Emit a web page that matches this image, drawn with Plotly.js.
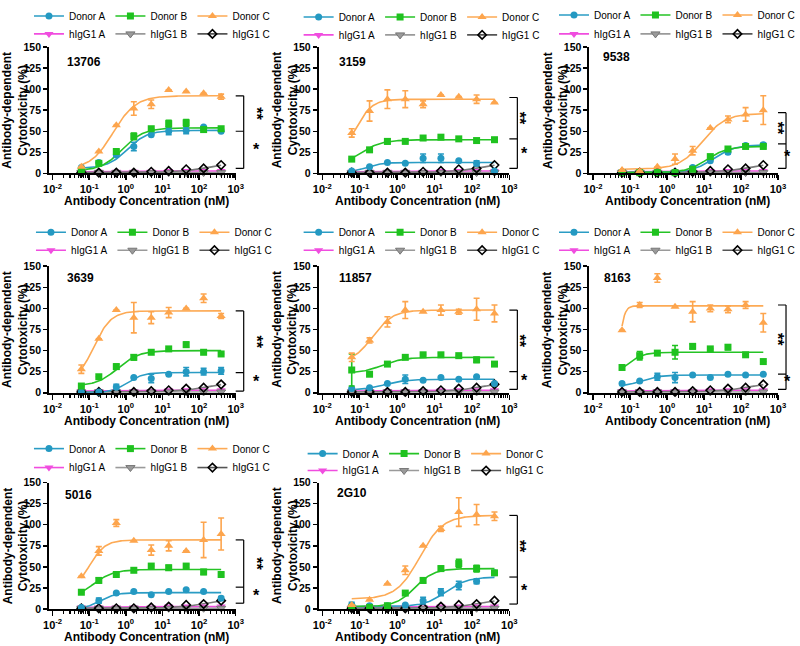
<!DOCTYPE html>
<html><head><meta charset="utf-8">
<script src="https://cdn.plot.ly/plotly-3.0.1.min.js"></script>
<style>html,body{margin:0;padding:0;background:#fff}#chart{width:800px;height:646px}</style>
</head><body><div id="chart"></div>
<script>
// ---------------- DATA ----------------
const concentrations = [0.061, 0.183, 0.549, 1.65, 4.94, 14.8, 44.4, 133, 400];
const panelNames = ['13706', '3159', '9538', '3639', '11857', '8163', '5016', '2G10'];
const seriesNames = ['Donor A', 'Donor B', 'Donor C', 'hIgG1 A', 'hIgG1 B', 'hIgG1 C'];

const donorA = [
  [7, 13, 22, 32, 46, 50, 51, 55, 50],
  [3, 8, 13, 12, 18, 18, 15, 12, 3],
  [1, 1, 1, 1, 7, 15, 25, 33, 34],
  [1, 1, 7, 18, 17, 22, 25, 25, 26],
  [5, 6, 11, 16, 15, 18, 16, 19, 11],
  [11, 14, 19, 18, 21, 18, 22, 21, 22],
  [2, 10, 19, 21, 17, 21, 23, 21, 13],
  [5, 4, 4, 5, 10, 20, 28, 33, 43]
];
const donorAErr = [
  [0, 0, 0, 5, 0, 4, 4, 0, 0],
  [0, 0, 0, 0, 5, 5, 0, 3, 0],
  [0, 0, 0, 0, 0, 0, 2, 0, 2],
  [0, 0, 3, 0, 5, 0, 5, 4, 4],
  [0, 0, 0, 5, 0, 0, 0, 0, 0],
  [0, 0, 4, 6, 0, 0, 0, 0, 0],
  [0, 3, 0, 0, 0, 0, 0, 0, 2],
  [3, 0, 0, 0, 4, 4, 5, 3, 2]
];
const donorB = [
  [4, 12, 26, 44, 53, 59, 60, 52, 53],
  [17, 28, 38, 38, 42, 43, 41, 39, 40],
  [1, 1, 1, 1, 5, 20, 29, 32, 32],
  [8, 19, 31, 42, 48, 52, 57, 48, 46],
  [27, 22, 34, 42, 45, 45, 44, 39, 34],
  [30, 44, 47, 48, 55, 52, 54, 45, 37],
  [20, 34, 41, 46, 51, 49, 51, 44, 41],
  [2, 2, 4, 19, 34, 48, 54, 48, 43]
];
const donorBErr = [
  [0, 0, 2, 4, 0, 4, 4, 0, 0],
  [0, 0, 3, 0, 0, 0, 0, 0, 0],
  [0, 0, 0, 0, 0, 0, 0, 0, 2],
  [0, 0, 3, 3, 0, 0, 3, 0, 0],
  [19, 0, 0, 0, 0, 2, 0, 3, 0],
  [2, 5, 0, 8, 3, 0, 3, 0, 0],
  [0, 3, 0, 0, 0, 3, 2, 3, 2],
  [0, 0, 0, 0, 3, 3, 5, 4, 0]
];
const donorC = [
  [8, 26, 57, 77, 82, 99, 97, 95, 91],
  [48, 74, 88, 88, 82, 93, 91, 88, 84],
  [4, 3, 8, 17, 27, 54, 64, 70, 75],
  [28, 64, 98, 89, 89, 95, 100, 112, 91],
  [42, 62, 84, 98, 96, 98, 96, 99, 94],
  [74, 104, 136, 102, 96, 100, 99, 104, 83],
  [39, 69, 102, 81, 70, 75, 69, 82, 89],
  [5, 11, 30, 46, 75, 95, 115, 112, 110]
];
const donorCErr = [
  [0, 0, 0, 8, 5, 0, 0, 0, 3],
  [5, 12, 11, 10, 4, 0, 0, 5, 0],
  [0, 0, 0, 6, 5, 0, 4, 8, 17],
  [5, 0, 0, 18, 7, 6, 0, 5, 3],
  [5, 3, 6, 10, 0, 6, 3, 13, 10],
  [0, 3, 5, 0, 12, 4, 4, 4, 11],
  [0, 5, 4, 0, 6, 6, 0, 21, 19],
  [0, 0, 0, 5, 0, 3, 17, 12, 5]
];
const hIgG1A = [2, 2, 2, 2, 2, 3, 3, 3, 3];
const hIgG1B = [1, 1, 1, 1, 1, 1, 1, 1, 1];
const hIgG1C = [1, 1, 1, 1, 2, 3, 5, 6, 10];

// fitted 4PL curve parameters: [bottom, top, EC50 (nM), Hill slope]
const fitDonorA = [[6,51,1.1,1.6],[1,13,0.15,2],[1,34,18,1.5],[0,24,1.1,2],[3,16,0.45,1.5],[7,21,0.2,1.8],[0,19.5,0.2,2],[3,38,20,1.5]];
const fitDonorB = [[3,54,0.8,1.5],[5,40,0.09,1.4],[1,32,12,1.6],[8,50,0.6,1.5],[23,42,0.4,1.5],[18,48,0.08,2],[10,47,0.12,1.5],[3,48,3,1.7]];
const fitDonorC = [[5,92,0.45,1.4],[20,88,0.08,2],[5,71,9,1.4],[10,97,0.13,1.8],[35,98,0.22,1.6],[0,103,0.05,6],[20,82,0.1,2],[12,111,4,1.4]];
const fitHIgG1A = [2, 3, 1, 1];
const fitHIgG1B = [1, 1, 1, 1];
const fitHIgG1C = [1, 14, 200, 1];

// significance bracket levels (% cytotoxicity)
const bracketTop = [92, 90, 72, 97, 98, 104, 82, 111];
const bracketMid = [50, 41, 35, 24, 25, 22, 26, 38];
const bracketBottom = [6, 6, 6, 2, 4, 4, 7, 6];
const xTickVals = [0.01, 0.1, 1, 10, 100, 1000];
const xTickText = ['10<sup>-2</sup>', '10<sup>-1</sup>', '10<sup>0</sup>', '10<sup>1</sup>', '10<sup>2</sup>', '10<sup>3</sup>'];
const yTickVals = [0, 25, 50, 75, 100, 125, 150];

// ---------------- STYLE / LAYOUT ----------------
const W = 800, H = 646;
const FONT = 'Liberation Sans, Arial, Helvetica, sans-serif';
const colors = ['#2499c2', '#1fc21f', '#fda54d', '#f04ddf', '#9a9a9a', '#000000'];
const lineColors = ['#2a9cc4', '#25c325', '#fdaa55', '#f04ddf', '#9a9a9a', '#7a7a7a'];
const symbols = ['circle', 'square', 'triangle-up', 'triangle-down', 'triangle-down', 'diamond-open'];
const markerSizes = [7, 7, 8, 8, 8, 6.5];
const cols = [[49, 236], [319, 510], [590, 779]];
const rows = [[45, 172], [265, 392], [482, 609]];
const legendRowY = [[14, 32], [15, 33], [13, 32], [231, 249], [231, 249], [231, 249], [448, 467], [453, 470]];
const legendStartX = [58, 328, 598, 60, 328, 598, 58, 332];
const labelPos = [[65, 60], [337, 60], [602, 55], [65, 277], [337, 277], [603, 277], [63, 495], [335, 493]];

function fourPL(prm, x) { return prm[0] + (prm[1] - prm[0]) / (1 + Math.pow(prm[2] / x, prm[3])); }
const grid = [];
for (let i = 0; i <= 120; i++) grid.push(Math.pow(10, Math.log10(concentrations[0]) + i * (Math.log10(concentrations[8]) - Math.log10(concentrations[0])) / 120));
const minorVals = [];
for (let e = -2; e < 3; e++) for (let k = 2; k <= 9; k++) minorVals.push(k * Math.pow(10, e));

const traces = [];
const layout = {
  width: W, height: H, margin: {l: 0, r: 0, t: 0, b: 0},
  paper_bgcolor: '#fff', plot_bgcolor: 'rgba(0,0,0,0)',
  font: {family: FONT, color: '#000'},
  showlegend: true, shapes: [], annotations: []
};

panelNames.forEach((pname, p) => {
  const suf = p === 0 ? '' : String(p + 1);
  const xa = 'x' + suf, ya = 'y' + suf;
  const c = cols[p % 3], r = rows[Math.floor(p / 3)];
  const legA = 2 * p + 1, legB = 2 * p + 2;
  const legNameA = legA === 1 ? 'legend' : 'legend' + legA;
  const legNameB = 'legend' + legB;

  const vals = [donorA[p], donorB[p], donorC[p], hIgG1A, hIgG1B, hIgG1C];
  const errs = [donorAErr[p], donorBErr[p], donorCErr[p], null, null, null];
  const fits = [fitDonorA[p], fitDonorB[p], fitDonorC[p], fitHIgG1A, fitHIgG1B, fitHIgG1C];
  const order = [3, 4, 5, 0, 1, 2];

  order.forEach(s => {
    traces.push({
      type: 'scatter', mode: 'lines', x: grid, y: grid.map(v => fourPL(fits[s], v)),
      xaxis: xa, yaxis: ya, showlegend: false, hoverinfo: 'skip',
      line: {color: lineColors[s], width: 1.6}, cliponaxis: false
    });
  });
  const markerStyle = s => {
    const mk = {symbol: symbols[s], size: markerSizes[s], color: colors[s]};
    if (s === 4) mk.line = {color: '#777', width: 1};
    if (s === 5) mk.line = {color: '#000', width: 1.6};
    return mk;
  };
  order.forEach(s => {
    const t = {
      type: 'scatter', mode: 'markers', x: concentrations, y: vals[s],
      xaxis: xa, yaxis: ya, showlegend: false, name: seriesNames[s],
      marker: markerStyle(s), cliponaxis: false
    };
    if (errs[s]) t.error_y = {type: 'data', array: errs[s], visible: true, color: colors[s], thickness: 1.6, width: 3};
    traces.push(t);
  });
  // legend entries
  [0, 1, 2, 3, 4, 5].forEach(s => {
    traces.push({
      type: 'scatter', mode: 'lines+markers', x: [null], y: [null],
      xaxis: xa, yaxis: ya, name: seriesNames[s], showlegend: true,
      legend: s < 3 ? legNameA : legNameB,
      line: {color: s === 5 ? '#555' : lineColors[s], width: 1.6}, marker: markerStyle(s)
    });
  });

  const lx = Math.min(legendStartX[p] - 29, 555);
  [legNameA, legNameB].forEach((ln, k) => {
    layout[ln] = {
      x: lx / W, y: 1 - legendRowY[p][k] / H, xanchor: 'left', yanchor: 'middle',
      orientation: 'h', bgcolor: 'rgba(0,0,0,0)', borderwidth: 0,
      font: {family: FONT, size: 10, color: '#000'}, itemclick: false, itemdoubleclick: false
    };
  });

  layout['xaxis' + suf] = {
    domain: [c[0] / W, c[1] / W], anchor: ya, type: 'log', range: [-2.1, 3],
    tickmode: 'array', tickvals: xTickVals, ticktext: xTickText,
    ticks: 'outside', ticklen: 5, tickwidth: 1.5, tickcolor: '#000',
    minor: {tickmode: 'array', tickvals: minorVals, ticks: 'outside', ticklen: 3, tickwidth: 1.2, tickcolor: '#000'},
    showline: true, linewidth: 1.8, linecolor: '#000', showgrid: false, zeroline: false,
    tickfont: {family: FONT, size: 11, weight: 'bold', color: '#000'}
  };
  layout['yaxis' + suf] = {
    domain: [1 - r[1] / H, 1 - r[0] / H], anchor: xa, range: [0, 150],
    tickmode: 'array', tickvals: yTickVals,
    ticks: 'outside', ticklen: 4, tickwidth: 1.5, tickcolor: '#000',
    showline: true, linewidth: 1.8, linecolor: '#000', showgrid: false, zeroline: false,
    tickfont: {family: FONT, size: 10.5, weight: 'bold', color: '#000'}
  };

  // axis titles
  layout.annotations.push({
    xref: 'paper', yref: 'paper', x: (c[0] - 33.5) / W, y: 1 - ((r[0] + r[1]) / 2) / H,
    xanchor: 'center', yanchor: 'middle', textangle: -90, showarrow: false,
    text: '<b>Antibody-dependent<br>Cytotoxicity (%)</b>',
    font: {family: FONT, size: 12, color: '#000'}
  }, {
    xref: 'paper', yref: 'paper', x: ((c[0] + c[1]) / 2 + 4) / W, y: 1 - (r[1] + 28) / H,
    xanchor: 'center', yanchor: 'middle', showarrow: false,
    text: '<b>Antibody Concentration (nM)</b>',
    font: {family: FONT, size: 12, color: '#000'}
  });

  layout.annotations.push({
    xref: 'paper', yref: 'paper', x: labelPos[p][0] / W, y: 1 - labelPos[p][1] / H,
    xanchor: 'left', yanchor: 'middle', showarrow: false, text: '<b>' + pname + '</b>',
    font: {family: FONT, size: 12, color: '#000'}
  });

  // significance bracket
  const xb = (c[1] + 8) / W, xt = (c[1] - 0) / W;
  const bl = {color: '#000', width: 1.2};
  layout.shapes.push(
    {type: 'line', xref: 'paper', yref: ya, x0: xb, x1: xb, y0: bracketBottom[p], y1: bracketTop[p], line: bl},
    {type: 'line', xref: 'paper', yref: ya, x0: xt, x1: xb, y0: bracketTop[p], y1: bracketTop[p], line: bl},
    {type: 'line', xref: 'paper', yref: ya, x0: xt, x1: xb, y0: bracketMid[p], y1: bracketMid[p], line: bl},
    {type: 'line', xref: 'paper', yref: ya, x0: xt, x1: xb, y0: bracketBottom[p], y1: bracketBottom[p], line: bl}
  );
  const xs = (c[1] + 15) / W;
  const starFont = {family: FONT, size: 16, color: '#000'};
  layout.annotations.push(
    {xref: 'paper', yref: ya, x: xs, y: (bracketTop[p] + bracketMid[p]) / 2, xshift: -5, text: '<b>**</b>',
     textangle: 90, showarrow: false, font: starFont},
    {xref: 'paper', yref: ya, x: xs, y: (bracketMid[p] + bracketBottom[p]) / 2, text: '<b>*</b>', showarrow: false, font: starFont}
  );
});

Plotly.newPlot('chart', traces, layout, {staticPlot: true, displayModeBar: false});
</script>
</body></html>
